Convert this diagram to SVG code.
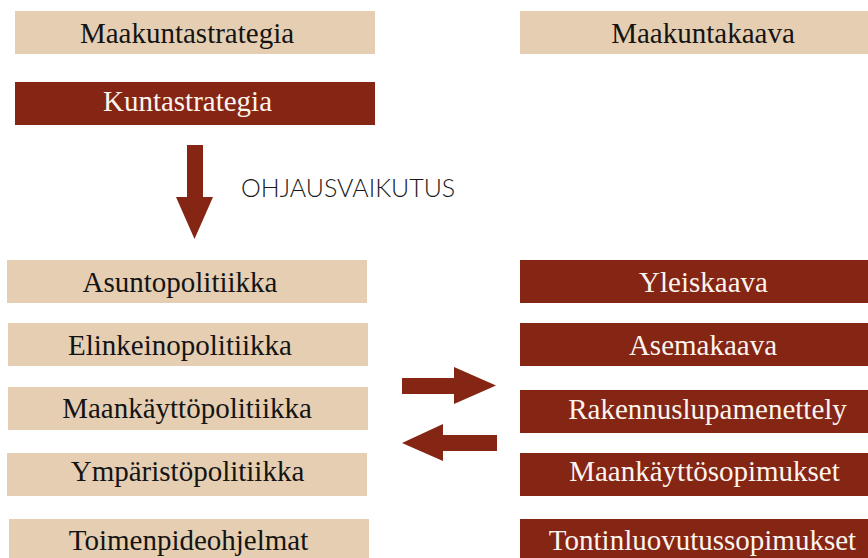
<svg xmlns="http://www.w3.org/2000/svg" width="868" height="558" viewBox="0 0 868 558">
<style>
.lt{fill:#E6CEB2}
.dk{fill:#852514}
.t{font-family:"Liberation Serif","Times New Roman",serif;font-size:29px;text-anchor:middle}
.tl{fill:#141414}
.td{fill:#FBF4EE}
.arr{fill:#852514}
.lbl{font-family:Lato,"Open Sans",sans-serif;font-weight:300;font-size:25px;fill:#1a1a1a}
</style>
<rect width="868" height="558" fill="#ffffff"/>
<g id="maakuntastrategia"><rect class="lt" x="15" y="11" width="360" height="43"/><text class="t tl" x="187" y="43">Maakuntastrategia</text></g>
<g id="kuntastrategia"><rect class="dk" x="15" y="82" width="360" height="43"/><text class="t td" x="187.5" y="111">Kuntastrategia</text></g>
<g id="maakuntakaava"><rect class="lt" x="520" y="11" width="348" height="43"/><text class="t tl" x="703" y="43">Maakuntakaava</text></g>
<g id="asuntopolitiikka"><rect class="lt" x="7" y="260" width="360" height="43"/><text class="t tl" x="180" y="292">Asuntopolitiikka</text></g>
<g id="elinkeinopolitiikka"><rect class="lt" x="8" y="323" width="360" height="43"/><text class="t tl" x="180" y="355">Elinkeinopolitiikka</text></g>
<g id="maankayttopolitiikka"><rect class="lt" x="8" y="387" width="360" height="43"/><text class="t tl" x="187" y="418">Maankäyttöpolitiikka</text></g>
<g id="ymparistopolitiikka"><rect class="lt" x="7" y="453" width="360" height="43"/><text class="t tl" x="187.5" y="481">Ympäristöpolitiikka</text></g>
<g id="toimenpideohjelmat"><rect class="lt" x="9" y="519" width="360" height="39"/><text class="t tl" x="188.5" y="550">Toimenpideohjelmat</text></g>
<g id="yleiskaava"><rect class="dk" x="520" y="260" width="348" height="43"/><text class="t td" x="703.5" y="292">Yleiskaava</text></g>
<g id="asemakaava"><rect class="dk" x="520" y="323" width="348" height="43"/><text class="t td" x="703" y="355">Asemakaava</text></g>
<g id="rakennuslupamenettely"><rect class="dk" x="520" y="390" width="348" height="43"/><text class="t td" x="707.5" y="419">Rakennuslupamenettely</text></g>
<g id="maankayttosopimukset"><rect class="dk" x="520" y="453" width="348" height="43"/><text class="t td" x="704.5" y="481">Maankäyttösopimukset</text></g>
<g id="tontinluovutussopimukset"><rect class="dk" x="520" y="519" width="348" height="39"/><text class="t td" x="702.5" y="550">Tontinluovutussopimukset</text></g>
<g id="connectors">
<polygon class="arr" points="187,145 203,145 203,197 213,197 194.5,239 176,197 187,197"/>
<text class="lbl" x="241" y="197">OHJAUSVAIKUTUS</text>
<polygon class="arr" points="402,378 454,378 454,367 496,385.5 454,404 454,394 402,394"/>
<polygon class="arr" points="497,435 443,435 443,424 402,443 443,461 443,451 497,451"/>
</g>
</svg>
